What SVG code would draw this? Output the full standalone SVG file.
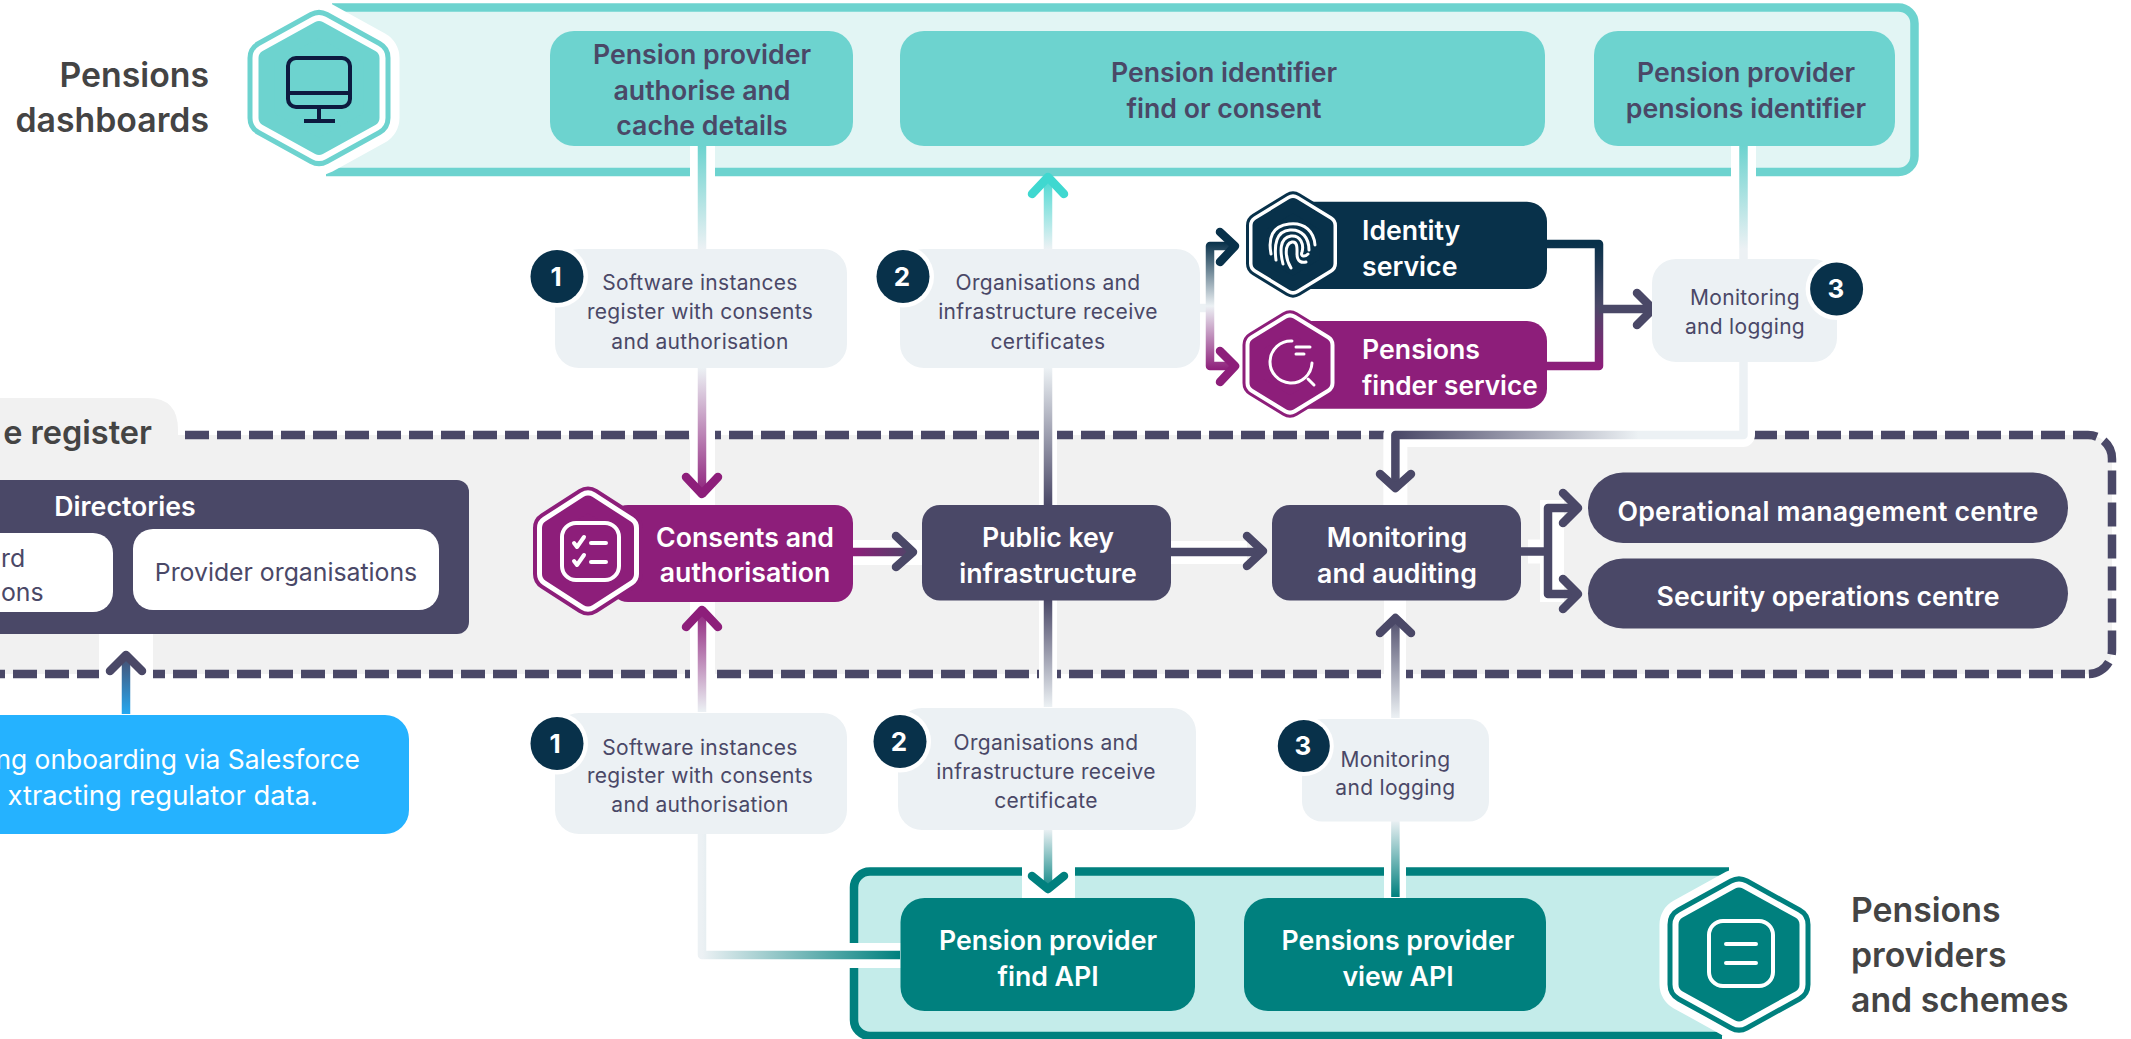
<svg xmlns="http://www.w3.org/2000/svg" xmlns:xlink="http://www.w3.org/1999/xlink" width="2131" height="1039" viewBox="0 0 2131 1039">
<style>
text{font-family:"Inter","Liberation Sans",sans-serif;text-anchor:middle}
.h{font-size:26.7px;font-weight:600}
.w{fill:#fff}.d{fill:#4a4867}
.s{font-size:21px;fill:#4a4867;font-weight:400;letter-spacing:.3px}
.l{font-size:33.8px;font-weight:600;fill:#444}
.n{font-size:26px;font-weight:700;fill:#fff}
.line{fill:none;stroke-width:8.5;stroke-linejoin:round}
.chev{fill:none;stroke-width:8.5;stroke-linecap:round;stroke-linejoin:round}
.halo{fill:none;stroke:#fff;stroke-width:24;stroke-linejoin:round}
.pill{fill:#ecf1f4}
.ic{fill:none;stroke:#fff;stroke-width:4;stroke-linecap:round;stroke-linejoin:round}
</style>
<defs>
<path id="hL" d="M0,-59L52.5,-30V30L0,59L-52.5,30V-30Z" stroke-linejoin="round"/>
<path id="hM" d="M0,-47.5L38,-23V23L0,47.5L-38,23V-23Z" stroke-linejoin="round"/>
<path id="hS" d="M0,-39.5L33.5,-19V19L0,39.5L-33.5,19V-19Z" stroke-linejoin="round"/>
<linearGradient id="g1" gradientUnits="userSpaceOnUse" x1="0" y1="146" x2="0" y2="249"><stop offset="0" stop-color="#6dd3cf"/><stop offset="1" stop-color="#ecf1f4"/></linearGradient>
<linearGradient id="g2" gradientUnits="userSpaceOnUse" x1="0" y1="368" x2="0" y2="497"><stop offset="0" stop-color="#ecf1f4"/><stop offset="1" stop-color="#8d1e7a"/></linearGradient>
<linearGradient id="g3" gradientUnits="userSpaceOnUse" x1="0" y1="712" x2="0" y2="607"><stop offset="0" stop-color="#ecf1f4"/><stop offset="1" stop-color="#8d1e7a"/></linearGradient>
<linearGradient id="g4" gradientUnits="userSpaceOnUse" x1="0" y1="714" x2="0" y2="652"><stop offset="0" stop-color="#25a8f0"/><stop offset="1" stop-color="#4a4867"/></linearGradient>
<linearGradient id="g5" gradientUnits="userSpaceOnUse" x1="853" y1="0" x2="916" y2="0"><stop offset="0" stop-color="#8d1e7a"/><stop offset="1" stop-color="#4a4867"/></linearGradient>
<linearGradient id="g6" gradientUnits="userSpaceOnUse" x1="0" y1="249" x2="0" y2="173"><stop offset="0" stop-color="#ecf1f4"/><stop offset="1" stop-color="#3fd8d0"/></linearGradient>
<linearGradient id="g7" gradientUnits="userSpaceOnUse" x1="0" y1="368" x2="0" y2="505"><stop offset="0" stop-color="#ecf1f4"/><stop offset="1" stop-color="#4a4867"/></linearGradient>
<linearGradient id="g8" gradientUnits="userSpaceOnUse" x1="0" y1="600" x2="0" y2="707"><stop offset="0" stop-color="#4a4867"/><stop offset="1" stop-color="#ecf1f4"/></linearGradient>
<linearGradient id="g9" gradientUnits="userSpaceOnUse" x1="0" y1="829" x2="0" y2="893"><stop offset="0" stop-color="#ecf1f4"/><stop offset="1" stop-color="#00807e"/></linearGradient>
<linearGradient id="g10" gradientUnits="userSpaceOnUse" x1="0" y1="820" x2="0" y2="897"><stop offset="0" stop-color="#ecf1f4"/><stop offset="1" stop-color="#00807e"/></linearGradient>
<linearGradient id="g11" gradientUnits="userSpaceOnUse" x1="0" y1="718" x2="0" y2="614"><stop offset="0" stop-color="#ecf1f4"/><stop offset="1" stop-color="#4a4867"/></linearGradient>
<linearGradient id="g12" gradientUnits="userSpaceOnUse" x1="1743" y1="0" x2="1395" y2="0"><stop offset="0" stop-color="#ecf1f4"/><stop offset=".3" stop-color="#ecf1f4"/><stop offset="1" stop-color="#4a4867"/></linearGradient>
<linearGradient id="g13" gradientUnits="userSpaceOnUse" x1="702" y1="0" x2="900" y2="0"><stop offset="0" stop-color="#ecf1f4"/><stop offset="1" stop-color="#00807e"/></linearGradient>
<linearGradient id="g14" gradientUnits="userSpaceOnUse" x1="0" y1="242" x2="0" y2="370"><stop offset="0" stop-color="#08314a"/><stop offset=".5" stop-color="#ecf1f4"/><stop offset="1" stop-color="#8d1e7a"/></linearGradient>
<linearGradient id="g15" gradientUnits="userSpaceOnUse" x1="0" y1="244" x2="0" y2="366"><stop offset="0" stop-color="#08314a"/><stop offset=".5" stop-color="#4a4867"/><stop offset="1" stop-color="#8d1e7a"/></linearGradient>
</defs>

<g id="band-dashboards">
<path d="M330,7.5H1898a16,16 0 0 1 16.5,16V156a16,16 0 0 1 -16.5,16H330Z" fill="#e2f5f4"/>
<path d="M332,7.5H1898a16,16 0 0 1 16.5,16V156a16,16 0 0 1 -16.5,16H326" fill="none" stroke="#6dd3cf" stroke-width="8.5"/>
</g>
<g id="band-providers">
<path d="M1735,871.5H870a16,16 0 0 0 -16,16V1020a16,16 0 0 0 16,16H1728Z" fill="#c4ecea"/>
<path d="M1729,871.5H870a16,16 0 0 0 -16,16V1020a16,16 0 0 0 16,16H1722" fill="none" stroke="#00807e" stroke-width="8.5"/>
</g>
<g id="register">
<path d="M-10,398H148Q178,398 178,430V440H-10Z" fill="#f1f1f1"/>
<rect x="-40" y="435" width="2152" height="239" rx="24" fill="#f1f1f1"/>
<path d="M185,435H2088a24,24 0 0 1 24,24V650a24,24 0 0 1 -24,24" fill="none" stroke="#4a4867" stroke-width="8.5" stroke-dasharray="24 8"/>
<path d="M-19,674H2086" fill="none" stroke="#4a4867" stroke-width="8.5" stroke-dasharray="24 8"/>
<text class="l" x="152" y="444" style="text-anchor:end;font-size:32.5px">e register</text>
</g>

<g id="connectors">
<g fill="#fff">
<rect x="690" y="146" width="25" height="31"/>
<rect x="1731" y="146" width="25" height="31"/>
<rect x="1022" y="862" width="53" height="36"/>
<rect x="1384" y="862" width="22" height="36"/>
<rect x="845" y="943" width="56" height="25"/>
<rect x="99" y="632" width="54" height="48"/>
<rect x="690" y="425" width="25" height="80"/>
<rect x="690" y="600" width="25" height="85"/>
<rect x="1039" y="425" width="18" height="80"/>
<rect x="1039" y="600" width="18" height="85"/>
<rect x="1384" y="600" width="22" height="85"/>
<rect x="1171" y="541" width="76" height="23"/>
<rect x="853" y="540" width="69" height="25"/>
</g>
<path class="halo" d="M1743,362V435H1395.4V505"/>
<path class="halo" d="M1528,551.5H1552M1552,500V602" stroke-width="20"/>
<path class="line" stroke="url(#g1)" d="M702,146V249"/>
<path class="line" stroke="url(#g2)" d="M702,368V495"/>
<path class="chev" stroke="#8d1e7a" d="M686,477L702,494L718,477"/>
<path class="line" stroke="url(#g3)" d="M702,712V610"/>
<path class="chev" stroke="#8d1e7a" d="M686,627L702,610L718,627"/>
<path class="line" stroke="url(#g13)" d="M702,833V955H900"/>
<path class="line" stroke="url(#g4)" d="M126,714V656"/>
<path class="chev" stroke="#4a4867" d="M110,671L126,655L142,671"/>
<path class="line" stroke="url(#g5)" d="M853,552H913"/>
<path class="chev" stroke="#4a4867" d="M896,536L913,552L896,567"/>
<path class="line" stroke="url(#g6)" d="M1048,249V178"/>
<path class="chev" stroke="#3fd8d0" d="M1032,194L1048,177L1064,194"/>
<path class="line" stroke="url(#g7)" d="M1048,368V505"/>
<path class="line" stroke="url(#g8)" d="M1048,600V707"/>
<path class="line" stroke="url(#g9)" d="M1048,829V889"/>
<path class="chev" stroke="#00807e" d="M1032,876L1048,889L1064,876"/>
<path class="line" stroke="#4a4867" d="M1171,552H1263"/>
<path class="chev" stroke="#4a4867" d="M1247,536L1263,551L1247,566"/>
<path class="line" stroke="url(#g1)" d="M1743.5,146V259"/>
<path class="line" stroke="url(#g12)" d="M1743.5,362V435H1395.4V488"/>
<path class="chev" stroke="#4a4867" d="M1380,474L1395.4,488L1411,474"/>
<path class="line" stroke="url(#g10)" d="M1395.4,897V820"/>
<path class="line" stroke="url(#g11)" d="M1395.4,718V618"/>
<path class="chev" stroke="#4a4867" d="M1380,633L1395.4,618L1411,633"/>
<path class="line" stroke="#4a4867" d="M1521,551.5H1548M1578,508H1548V594H1578"/>
<path class="chev" stroke="#4a4867" d="M1563,493L1578,508L1563,523"/>
<path class="chev" stroke="#4a4867" d="M1563,579L1578,594L1563,609"/>
<path class="line" stroke="#ecf1f4" d="M1190,308H1210"/>
<path class="line" stroke="url(#g14)" d="M1234,246H1210V366H1234"/>
<path class="chev" stroke="#08314a" d="M1220,232L1235,246L1220,262"/>
<path class="chev" stroke="#8d1e7a" d="M1220,351L1235,366L1220,382"/>
<path class="line" stroke="url(#g15)" d="M1547,244H1599V366H1547"/>
<path class="line" stroke="#4a4867" d="M1599,309H1652"/>
<path class="chev" stroke="#4a4867" d="M1637,293L1653,309L1637,325"/>
</g>

<g id="dashboards-icon">
<use href="#hL" x="319" y="88" fill="none" stroke="#fff" stroke-width="56"/>
<use href="#hL" x="319" y="88" fill="none" stroke="#6dd3cf" stroke-width="38"/>
<use href="#hL" x="319" y="88" fill="none" stroke="#fff" stroke-width="28"/>
<use href="#hL" x="319" y="88" fill="#6dd3cf" stroke="#6dd3cf" stroke-width="16"/>
<rect x="288" y="58" width="62" height="49" rx="8" fill="none" stroke="#0d1a3f" stroke-width="4"/>
<path d="M288,93H350M319,107V120M304,121H335" fill="none" stroke="#0d1a3f" stroke-width="4"/>
</g>
<text class="l" x="209" y="87" style="text-anchor:end">Pensions</text>
<text class="l" x="209" y="132" style="text-anchor:end">dashboards</text>

<g id="authorise"><rect x="550" y="31" width="303" height="115" rx="24" fill="#6dd3cf"/>
<text class="h d" x="702" y="64">Pension provider</text><text class="h d" x="702" y="100">authorise and</text><text class="h d" x="702" y="135">cache details</text></g>
<g id="find-consent"><rect x="900" y="31" width="645" height="115" rx="24" fill="#6dd3cf"/>
<text class="h d" x="1224" y="82">Pension identifier</text><text class="h d" x="1224" y="118">find or consent</text></g>
<g id="identifier"><rect x="1594" y="31" width="301" height="115" rx="24" fill="#6dd3cf"/>
<text class="h d" x="1746" y="82">Pension provider</text><text class="h d" x="1746" y="118">pensions identifier</text></g>

<g id="identity">
<rect x="1290" y="201.7" width="257" height="87.3" rx="20" fill="#08314a"/>
<use href="#hS" x="1293" y="244.5" fill="none" stroke="#08314a" stroke-width="27"/>
<use href="#hS" x="1293" y="244.5" fill="none" stroke="#fff" stroke-width="21"/>
<use href="#hS" x="1293" y="244.5" fill="#08314a" stroke="#08314a" stroke-width="14"/>
<g fill="none" stroke="#fff" stroke-width="3" stroke-linecap="round">
<path d="M1271,254C1268,238 1272,226 1289,224C1305,222 1314,232 1315,245"/>
<path d="M1276,260C1274,245 1276,231 1290,230C1302,229 1309,238 1309,250"/>
<path d="M1283,264C1280,252 1279,238 1291,236C1301,235 1304,245 1302,252C1300,257 1305,257 1308,254"/>
<path d="M1291,268C1285,258 1284,244 1292,242C1298,241 1297,250 1297,254C1297,262 1302,263 1306,262"/>
</g>
<text class="h w" x="1362" y="240" style="text-anchor:start">Identity</text><text class="h w" x="1362" y="276" style="text-anchor:start">service</text></g>
<g id="finder">
<rect x="1290" y="321" width="257" height="87.7" rx="20" fill="#8d1e7a"/>
<use href="#hS" x="1290" y="364" fill="none" stroke="#8d1e7a" stroke-width="28"/>
<use href="#hS" x="1290" y="364" fill="none" stroke="#fff" stroke-width="22"/>
<use href="#hS" x="1290" y="364" fill="#8d1e7a" stroke="#8d1e7a" stroke-width="14"/>
<g fill="none" stroke="#fff" stroke-width="3" stroke-linecap="round"><path d="M1292,341A21,21 0 1 0 1312,363"/><path d="M1296,347H1310M1296,354H1304M1308,379L1314,385"/></g>
<text class="h w" x="1362" y="359" style="text-anchor:start">Pensions</text><text class="h w" x="1362" y="395" style="text-anchor:start;font-size:26.2px">finder service</text></g>

<g id="directories"><rect x="-30" y="480" width="499" height="154" rx="12" fill="#4a4867"/>
<text class="h w" x="125" y="516">Directories</text>
<rect x="-30" y="533" width="143" height="79" rx="20" fill="#fff"/>
<text x="1" y="567" class="d" style="font-size:24.8px;text-anchor:start">rd</text><text x="1" y="601" class="d" style="font-size:24.8px;text-anchor:start">ons</text>
<rect x="133" y="529" width="306" height="81" rx="20" fill="#fff"/>
<text x="286" y="581" class="d" style="font-size:24.8px">Provider organisations</text></g>

<g id="onboarding"><rect x="-30" y="715" width="439" height="119" rx="24" fill="#25b2ff"/>
<text class="w" x="360" y="769" style="font-size:26.4px;text-anchor:end">ng onboarding via Salesforce</text>
<text class="w" x="318" y="805" style="font-size:27.4px;text-anchor:end">xtracting regulator data.</text></g>

<g id="consents">
<rect x="610" y="505" width="243" height="97" rx="18" fill="#8d1e7a"/>
<use href="#hM" x="588" y="551" fill="none" stroke="#8d1e7a" stroke-width="34"/>
<use href="#hM" x="588" y="551" fill="none" stroke="#fff" stroke-width="26"/>
<use href="#hM" x="588" y="551" fill="#8d1e7a" stroke="#8d1e7a" stroke-width="16"/>
<rect x="562" y="523" width="57" height="57" rx="14" class="ic"/>
<path class="ic" d="M574,543L577,547L584,537M574,561L577,565L584,555M591,543H606M591,562H606"/>
<text class="h w" x="745" y="547">Consents and</text><text class="h w" x="745" y="582">authorisation</text></g>

<g id="pki"><rect x="922" y="505" width="249" height="95.5" rx="18" fill="#4a4867"/>
<text class="h w" x="1048" y="547">Public key</text><text class="h w" x="1048" y="583">infrastructure</text></g>
<g id="monitoring"><rect x="1272" y="505" width="249" height="95.5" rx="18" fill="#4a4867"/>
<text class="h w" x="1397" y="547">Monitoring</text><text class="h w" x="1397" y="583">and auditing</text></g>
<g id="ops"><rect x="1588" y="472.5" width="480" height="70.5" rx="35" fill="#4a4867"/><text class="h w" x="1828" y="521" style="letter-spacing:.2px">Operational management centre</text></g>
<g id="security"><rect x="1588" y="558.5" width="480" height="70" rx="35" fill="#4a4867"/><text class="h w" x="1828" y="606">Security operations centre</text></g>

<g id="label-1a"><rect class="pill" x="555" y="249" width="292" height="119" rx="24"/>
<text class="s" x="700" y="290">Software instances</text><text class="s" x="700" y="319">register with consents</text><text class="s" x="700" y="349">and authorisation</text>
<circle cx="557" cy="276.5" r="31" fill="#fff"/><circle cx="557" cy="276.5" r="26.5" fill="#08314a"/><text class="n" x="556" y="286">1</text></g>
<g id="label-2a"><rect class="pill" x="900" y="249" width="300" height="119" rx="24"/>
<text class="s" x="1048" y="290">Organisations and</text><text class="s" x="1048" y="319">infrastructure receive</text><text class="s" x="1048" y="349">certificates</text>
<circle cx="903" cy="276.5" r="31" fill="#fff"/><circle cx="903" cy="276.5" r="26.5" fill="#08314a"/><text class="n" x="902" y="286">2</text></g>
<g id="label-3a"><rect class="pill" x="1652" y="259" width="185" height="103" rx="24"/>
<text class="s" x="1745" y="305">Monitoring</text><text class="s" x="1745" y="334">and logging</text>
<circle cx="1836.6" cy="289" r="31" fill="#fff"/><circle cx="1836.6" cy="289" r="26.5" fill="#08314a"/><text class="n" x="1836" y="298">3</text></g>
<g id="label-1b"><rect class="pill" x="555" y="713" width="292" height="121" rx="24"/>
<text class="s" x="700" y="755">Software instances</text><text class="s" x="700" y="783">register with consents</text><text class="s" x="700" y="812">and authorisation</text>
<circle cx="557" cy="743.5" r="31" fill="#fff"/><circle cx="557" cy="743.5" r="26.5" fill="#08314a"/><text class="n" x="555" y="753">1</text></g>
<g id="label-2b"><rect class="pill" x="898" y="708" width="298" height="122" rx="24"/>
<text class="s" x="1046" y="750">Organisations and</text><text class="s" x="1046" y="779">infrastructure receive</text><text class="s" x="1046" y="808">certificate</text>
<circle cx="900" cy="741.5" r="31" fill="#fff"/><circle cx="900" cy="741.5" r="26.5" fill="#08314a"/><text class="n" x="899" y="751">2</text></g>
<g id="label-3b"><rect class="pill" x="1302" y="719" width="187" height="102.6" rx="20"/>
<text class="s" x="1395.4" y="767">Monitoring</text><text class="s" x="1395.4" y="795">and logging</text>
<circle cx="1303.8" cy="746" r="30" fill="#fff"/><circle cx="1303.8" cy="746" r="26" fill="#08314a"/><text class="n" x="1303" y="755">3</text></g>

<g id="find-api"><rect x="900.5" y="898" width="294.5" height="113" rx="24" fill="#00807e"/>
<text class="h w" x="1048" y="950">Pension provider</text><text class="h w" x="1048" y="986">find API</text></g>
<g id="view-api"><rect x="1244" y="898" width="302" height="113" rx="24" fill="#00807e"/>
<text class="h w" x="1398" y="950">Pensions provider</text><text class="h w" x="1398" y="986">view API</text></g>
<g id="providers-icon">
<use href="#hL" x="1739" y="954.5" fill="none" stroke="#fff" stroke-width="54"/>
<use href="#hL" x="1739" y="954.5" fill="none" stroke="#00807e" stroke-width="38"/>
<use href="#hL" x="1739" y="954.5" fill="none" stroke="#fff" stroke-width="28"/>
<use href="#hL" x="1739" y="954.5" fill="#00807e" stroke="#00807e" stroke-width="16"/>
<rect x="1709" y="921" width="64" height="65" rx="14" class="ic"/>
<path class="ic" d="M1726,944H1756M1726,963H1756"/>
</g>
<text class="l" x="1851" y="922" style="text-anchor:start">Pensions</text>
<text class="l" x="1851" y="967" style="text-anchor:start">providers</text>
<text class="l" x="1851" y="1012" style="text-anchor:start">and schemes</text>
</svg>
